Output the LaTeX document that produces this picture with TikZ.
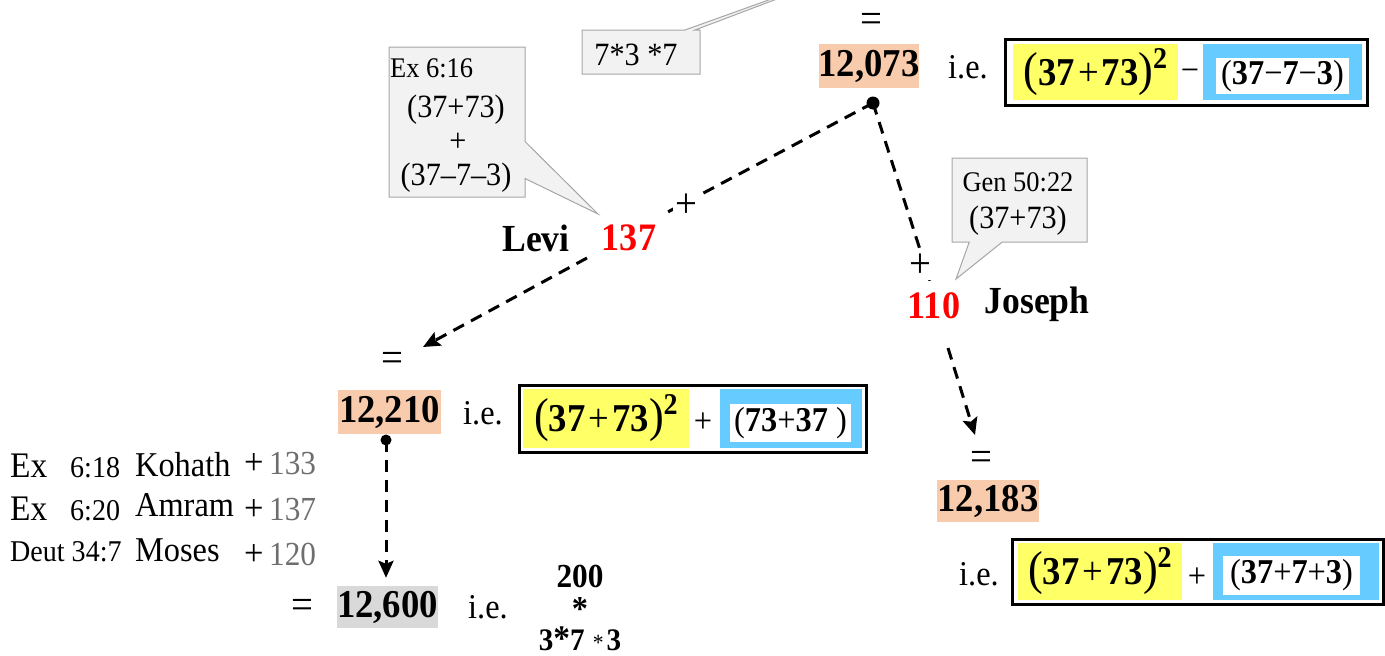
\documentclass[tikz,border=0pt]{standalone}
\usepackage{fontspec}
\setmainfont{Liberation Serif}[FakeStretch=0.93]
\usetikzlibrary{arrows.meta,shapes.callouts,calc}
\definecolor{peach}{HTML}{F8CBAD}
\definecolor{fyellow}{HTML}{FFFF66}
\definecolor{fblue}{HTML}{66CCFF}
\definecolor{gbox}{HTML}{D9D9D9}
\definecolor{cfill}{HTML}{F2F2F2}
\definecolor{cdraw}{HTML}{A6A6A6}
\definecolor{numgray}{HTML}{6E6E6E}
\newcommand{\fs}[1]{\fontsize{\fpeval{#1*1.16}}{\fpeval{#1*1.16}}\selectfont}
\newcommand{\sqf}{{\fs{41}(}\textbf{37}\hspace{3pt}+\hspace{3pt}\textbf{73}{\fs{41})}\raisebox{17pt}{\fs{26}\bfseries 2}}
\tikzset{
  txt/.style={inner sep=0pt},
  bignum/.style={fill=peach, inner sep=0pt, font=\fs{34}\bfseries},
  graynum/.style={fill=gbox, inner sep=0pt, font=\fs{34}\bfseries},
  rednum/.style={text=red, inner sep=0pt, font=\fs{33.5}\bfseries},
  pname/.style={inner sep=0pt, font=\fs{33}\bfseries},
  callbox/.style={rectangle callout, fill=cfill, draw=cdraw, line width=1pt, inner sep=0pt},
  conn/.style={line width=3pt, dash pattern=on 12pt off 8pt},
  tipped/.style={-{Stealth[length=17pt,width=15pt,inset=3pt]}},
  fbox/.style={draw=black, line width=3pt, fill=white, inner sep=0pt},
  ybox/.style={fill=fyellow, inner sep=0pt, font=\fs{34}},
  bbox/.style={fill=fblue, inner sep=0pt},
  wbox/.style={fill=white, inner sep=0pt, font=\fs{30}},
  lst/.style={inner sep=0pt, anchor=base west},
  eqs/.style={inner sep=0pt, font=\fs{36}},
  pls/.style={inner sep=2pt, fill=white, font=\fs{36}}
}
\begin{document}
\begin{tikzpicture}[x=1pt,y=-1pt]
\useasboundingbox (0,0) rectangle (1385,656);
\clip (0,0) rectangle (1385,656);

% ---- callouts
\node[callbox, minimum width=118pt, minimum height=44pt, callout absolute pointer={(880,-40)}, callout pointer width=10pt] (c0) at (641,52) {};
\node[txt, font=\fs{28}] (t0) at (636,55) {7*3 *7};

\node[callbox, minimum width=136pt, minimum height=150pt, callout absolute pointer={(598,214)}, callout pointer width=37pt] (c1) at (457,122) {};
\node[lst, font=\fs{24.5}] (c1a) at (390,77) {Ex 6:16};
\node[txt, font=\fs{28}, anchor=base] (c1b) at (456,117) {(37+73)};
\node[txt, font=\fs{28}] (c1c) at (458,142) {+};
\node[txt, font=\fs{28}, anchor=base] (c1d) at (456,185) {(37–7–3)};

\node[callbox, minimum width=135pt, minimum height=84pt, callout absolute pointer={(956,279)}, callout pointer width=33pt] (c2) at (1019.5,200) {};
\node[txt, font=\fs{24.5}] (c2a) at (1018,182) {Gen 50:22};
\node[txt, font=\fs{28}] (c2b) at (1018,221) {(37+73)};

% ---- top: 12,073
\node[eqs] (eq1) at (871,23) {=};
\node[bignum, minimum width=100pt, minimum height=44pt] (n12073) at (869,66) {12,073};
\node[txt, font=\fs{30}] (ie1) at (968,67) {i.e.};
\node[fbox, minimum width=362pt, minimum height=66pt] (b1) at (1186,72) {};
\node[ybox, minimum width=165pt, minimum height=56pt] (y1) at (1095.5,72) {\sqf};
\node[txt, font=\fs{30}] (o1) at (1190,75) {−};
\node[bbox, minimum width=159pt, minimum height=56pt] (bl1) at (1282.5,72) {};
\node[wbox, minimum width=133pt, minimum height=36pt] (w1) at (1282.5,76) {(\textbf{37}−\textbf{7}−\textbf{3})};
\coordinate (d1) at (873,103);

% ---- Levi / Joseph
\node[pname] (levi) at (536,238) {Levi};
\node[rednum] (n137) at (629,238) {137};
\node[rednum] (n110) at (934,306) {110};
\node[pname] (joseph) at (1037,304) {Joseph};

% ---- 12,210
\node[eqs] (eq2) at (392,362) {=};
\node[bignum, minimum width=103pt, minimum height=44pt] (n12210) at (389.5,412) {12,210};
\node[txt, font=\fs{30}] (ie2) at (483,413) {i.e.};
\node[fbox, minimum width=347pt, minimum height=67pt] (b2) at (692.5,418.5) {};
\node[ybox, minimum width=166pt, minimum height=59pt] (y2) at (606,418.5) {\sqf};
\node[txt, font=\fs{30}] (o2) at (703,423) {+};
\node[bbox, minimum width=142pt, minimum height=59pt] (bl2) at (791,418.5) {};
\node[wbox, minimum width=121pt, minimum height=38pt] (w2) at (790.5,423) {(\textbf{73}+\textbf{37} )};
\coordinate (d2) at (386,440);

% ---- 12,183
\node[eqs] (eq3) at (981,461) {=};
\node[bignum, minimum width=102pt, minimum height=42pt] (n12183) at (988,501) {12,183};
\node[txt, font=\fs{30}] (ie3) at (979,574) {i.e.};
\node[fbox, minimum width=371pt, minimum height=65pt] (b3) at (1197.5,571.5) {};
\node[ybox, minimum width=164pt, minimum height=57pt] (y3) at (1100,571.5) {\sqf};
\node[txt, font=\fs{30}] (o3) at (1197,578) {+};
\node[bbox, minimum width=166pt, minimum height=57pt] (bl3) at (1296,571.5) {};
\node[wbox, minimum width=137pt, minimum height=39pt] (w3) at (1291.5,575.5) {(\textbf{37}+\textbf{7}+\textbf{3})};

% ---- 12,600
\node[eqs] (eq4) at (302,609) {=};
\node[graynum, minimum width=101pt, minimum height=42pt] (n12600) at (387.5,607) {12,600};
\node[txt, font=\fs{30}] (ie4) at (488,607) {i.e.};
\node[txt, font=\fs{29}\bfseries] (f200) at (580,576) {200};
\node[txt, font=\fs{30}\bfseries] (fst) at (580,609) {*};
\node[txt, font=\fs{27}] (f373) at (580,639) {\textbf{3}{\fs{31}\bfseries *}\textbf{7}\hspace{8pt}{\fs{20}*}\hspace{3pt}\textbf{3}};

% ---- left list
\node[lst, font=\fs{31}] (r1a) at (10,477) {Ex};
\node[lst, font=\fs{26}] (r1b) at (70,477) {6:18};
\node[lst, font=\fs{30}] (r1c) at (135,476) {Kohath};
\node[lst, font=\fs{32}] (r1d) at (244,474) {+};
\node[lst, font=\fs{29}, text=numgray] (r1e) at (269,474) {133};
\node[lst, font=\fs{31}] (r2a) at (10,520) {Ex};
\node[lst, font=\fs{26}] (r2b) at (70,520) {6:20};
\node[lst, font=\fs{30}] (r2c) at (135,516) {Amram};
\node[lst, font=\fs{32}] (r2d) at (244,520) {+};
\node[lst, font=\fs{29}, text=numgray] (r2e) at (269,520) {137};
\node[lst, font=\fs{26}] (r3a) at (10,561) {Deut 34:7};
\node[lst, font=\fs{30}] (r3c) at (135,561) {Moses};
\node[lst, font=\fs{32}] (r3d) at (244,565) {+};
\node[lst, font=\fs{29}, text=numgray] (r3e) at (269,565) {120};

% ---- connectors
\draw[conn] (d1) -- ($(n137.north east)+(10,-12)$);
\draw[conn] (d1) -- ($(n110.north)+(-4,-12)$);
\draw[conn, tipped] ($(n137)+(-42,20)$) -- ($(eq2)+(31,-15)$);
\draw[conn, tipped] ($(n110)+(14,42)$) -- ($(eq3)+(-6,-26)$);
\draw[conn, tipped, shorten >=8pt] (d2) -- (d2 |- n12600.north);
\node[pls] (p1) at (686,206) {+};
\node[pls] (p2) at (920,266) {+};
\fill (d1) circle (6.5pt);
\fill (d2) circle (5.5pt);
\end{tikzpicture}
\end{document}
